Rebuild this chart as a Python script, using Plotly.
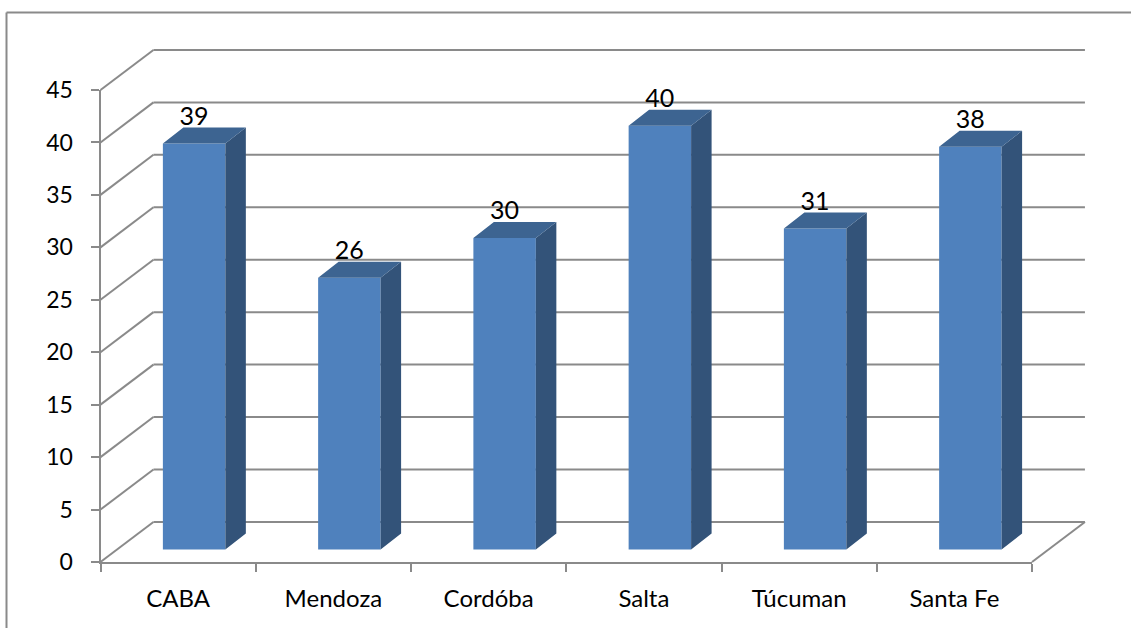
import plotly.graph_objects as go

categories = ["CABA", "Mendoza", "Cordóba", "Salta", "Túcuman", "Santa Fe"]
values = [38.7, 25.9, 29.7, 40.4, 30.6, 38.4]
labels = ["39", "26", "30", "40", "31", "38"]
y_ticks = [0, 5, 10, 15, 20, 25, 30, 35, 40, 45]

W, H = 1131, 628
LEFT, RIGHT, BOTTOM, TOP = 100.5, 1032.0, 562.0, 90.0
X_MIN, X_MAX, Y_MAX = -0.5, 5.5, 45
UX = (RIGHT - LEFT) / (X_MAX - X_MIN)
UY = (BOTTOM - TOP) / Y_MAX

BAR_W = 0.4024
BAR_SHIFT = 0.103
BAR_BASE = 1.19
DEPTH_X = 0.132
DEPTH_Y = 1.527
WALL_X = 0.341
WALL_Y = 3.82
LABEL_RISE = 2.4

GRID = "#8a8a8a"
FRONT = "#4f81bd"
SIDE = "#335379"
ROOF = "#3d6491"
FONT = "Lato"


def px(x):
    return (LEFT + (x - X_MIN) * UX) / W


def py(y):
    return 1 - (BOTTOM - y * UY) / H


shapes = []


def seg(x0, y0, x1, y1, color=GRID, width=2):
    shapes.append(dict(type="line", xref="paper", yref="paper", layer="below",
                       x0=x0, y0=y0, x1=x1, y1=y1,
                       line=dict(color=color, width=width)))


for t in y_ticks:
    seg(px(X_MIN), py(t), px(X_MIN + WALL_X), py(t + WALL_Y))
    seg(px(X_MIN + WALL_X), py(t + WALL_Y), px(X_MAX + WALL_X), py(t + WALL_Y))
seg(px(X_MAX), py(0), px(X_MAX + WALL_X), py(WALL_Y))
seg(6.5 / W, 1 - 12.5 / H, 1, 1 - 12.5 / H)
seg(6.5 / W, 1 - 12.5 / H, 6.5 / W, 0)

fig = go.Figure()
fig.add_trace(go.Bar(
    x=categories, y=values, base=BAR_BASE, width=BAR_W,
    offset=BAR_SHIFT - BAR_W / 2, marker=dict(color=FRONT, line=dict(width=0)),
    xaxis="x", yaxis="y", hoverinfo="skip",
))

side_x, side_y, roof_x, roof_y = [], [], [], []
text_x, text_y = [], []
for i, v in enumerate(values):
    l = i + BAR_SHIFT - BAR_W / 2
    r = l + BAR_W
    top = BAR_BASE + v
    side_x += [r, r + DEPTH_X, r + DEPTH_X, r, r, None]
    side_y += [BAR_BASE, BAR_BASE + DEPTH_Y, top + DEPTH_Y, top, BAR_BASE, None]
    roof_x += [l, r, r + DEPTH_X, l + DEPTH_X, l, None]
    roof_y += [top, top, top + DEPTH_Y, top + DEPTH_Y, top, None]
    text_x.append(i + BAR_SHIFT)
    text_y.append(top + LABEL_RISE)

fig.add_trace(go.Scatter(x=side_x, y=side_y, mode="lines", fill="toself",
                         fillcolor=SIDE, line=dict(width=0), xaxis="x2", yaxis="y",
                         hoverinfo="skip"))
fig.add_trace(go.Scatter(x=roof_x, y=roof_y, mode="lines", fill="toself",
                         fillcolor=ROOF, line=dict(width=0), xaxis="x2", yaxis="y",
                         hoverinfo="skip"))
fig.add_trace(go.Scatter(x=text_x, y=text_y, mode="text", text=labels,
                         textposition="middle center", cliponaxis=False,
                         textfont=dict(family=FONT, size=25, color="#000000"),
                         xaxis="x2", yaxis="y", hoverinfo="skip"))

fig.update_layout(
    width=W, height=H, autosize=False,
    margin=dict(l=0, r=0, t=0, b=0, pad=0, autoexpand=False),
    paper_bgcolor="white", plot_bgcolor="rgba(0,0,0,0)",
    showlegend=False, shapes=shapes,
    font=dict(family=FONT, color="#000000"),
    xaxis=dict(
        type="category", categoryorder="array", categoryarray=categories,
        domain=[LEFT / W, RIGHT / W], range=[X_MIN, X_MAX], anchor="y", automargin=False,
        tickmode="array", tickvals=categories, ticktext=categories,
        tickson="boundaries", ticks="outside", ticklen=8, tickwidth=2, tickcolor=GRID,
        showline=True, linecolor=GRID, linewidth=2, showgrid=False, zeroline=False,
        tickfont=dict(family=FONT, size=24, color="#000000"), ticklabelstandoff=14,
    ),
    xaxis2=dict(
        overlaying="x", anchor="y", domain=[LEFT / W, RIGHT / W], automargin=False,
        range=[X_MIN, X_MAX], visible=False, showgrid=False, zeroline=False,
    ),
    yaxis=dict(
        domain=[1 - BOTTOM / H, 1 - TOP / H], range=[0, Y_MAX], anchor="x", automargin=False,
        tickmode="array", tickvals=y_ticks, ticks="outside", ticklen=8, tickwidth=2,
        tickcolor=GRID, showline=True, linecolor=GRID, linewidth=2, showgrid=False,
        zeroline=False, tickfont=dict(family=FONT, size=23, color="#000000"),
        ticklabelstandoff=13,
    ),
)

fig.write_html("out.html", post_script="document.body.style.margin='0';",
               config={"displayModeBar": False})
